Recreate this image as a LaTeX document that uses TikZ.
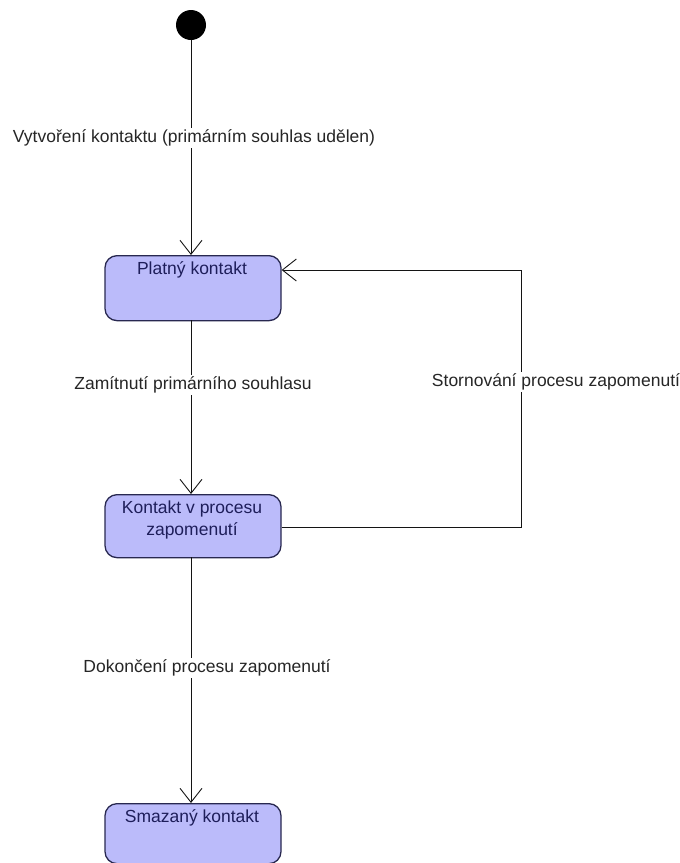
\documentclass[tikz,border=0pt]{standalone}
\usepackage{fontspec}
\setmainfont{Liberation Sans}
\usetikzlibrary{arrows.meta}
\definecolor{statefill}{RGB}{187,187,250}
\definecolor{stateline}{RGB}{40,40,80}
\definecolor{statetext}{RGB}{30,30,90}
\definecolor{edgeline}{RGB}{20,20,20}
\tikzset{
  state/.style={draw=stateline, fill=statefill, line width=1.3pt, rounded corners=12pt,
    minimum width=176pt, anchor=north, inner sep=0pt},
  statelabel/.style={text=statetext, font=\fontsize{17.5}{22}\selectfont, align=center, anchor=north},
  trans/.style={draw=edgeline, line width=0.9pt, -{Straight Barb[length=14pt, width=22pt, line width=0.9pt]}},
  tlabel/.style={fill=white, inner sep=2pt, text=black!85, font=\fontsize{17.5}{20}\selectfont}
}
\begin{document}
\begin{tikzpicture}[x=1pt,y=-1pt]
  \useasboundingbox (0,0) rectangle (680,863);
  % initial pseudo-state
  \node[circle, fill=black, minimum size=30pt, inner sep=0pt] (init) at (191,25) {};
  % states
  \node[state, minimum height=65pt] (platny) at (193,255) {};
  \node[statelabel] at (192,258) {Platný kontakt};
  \node[state, minimum height=63pt] (proces) at (193,494) {};
  \node[statelabel] at (192,497) {Kontakt v procesu\\zapomenutí};
  \node[state, minimum height=60pt] (smazany) at (193,803) {};
  \node[statelabel] at (192,806) {Smazaný kontakt};
  % transitions
  \coordinate (c1) at (521,527);
  \coordinate (c2) at (521,270);
  \draw[trans] (init.south -| 191,0) -- (191,255);
  \draw[trans] (191,320) -- (191,494);
  \draw[trans] (191,557) -- (191,803);
  \draw[trans] (proces.east |- 0,527) -- (c1) -- (c2) -- (platny.east |- 0,270);
  % transition labels
  \node[tlabel] (l1) at (194,138) {Vytvoření kontaktu (primárním souhlas udělen)};
  \node[tlabel] (l2) at (193,385) {Zamítnutí primárního souhlasu};
  \node[tlabel] (l3) at (556,382) {Stornování procesu zapomenutí};
  \node[tlabel] (l4) at (207,668) {Dokončení procesu zapomenutí};
\end{tikzpicture}
\end{document}
